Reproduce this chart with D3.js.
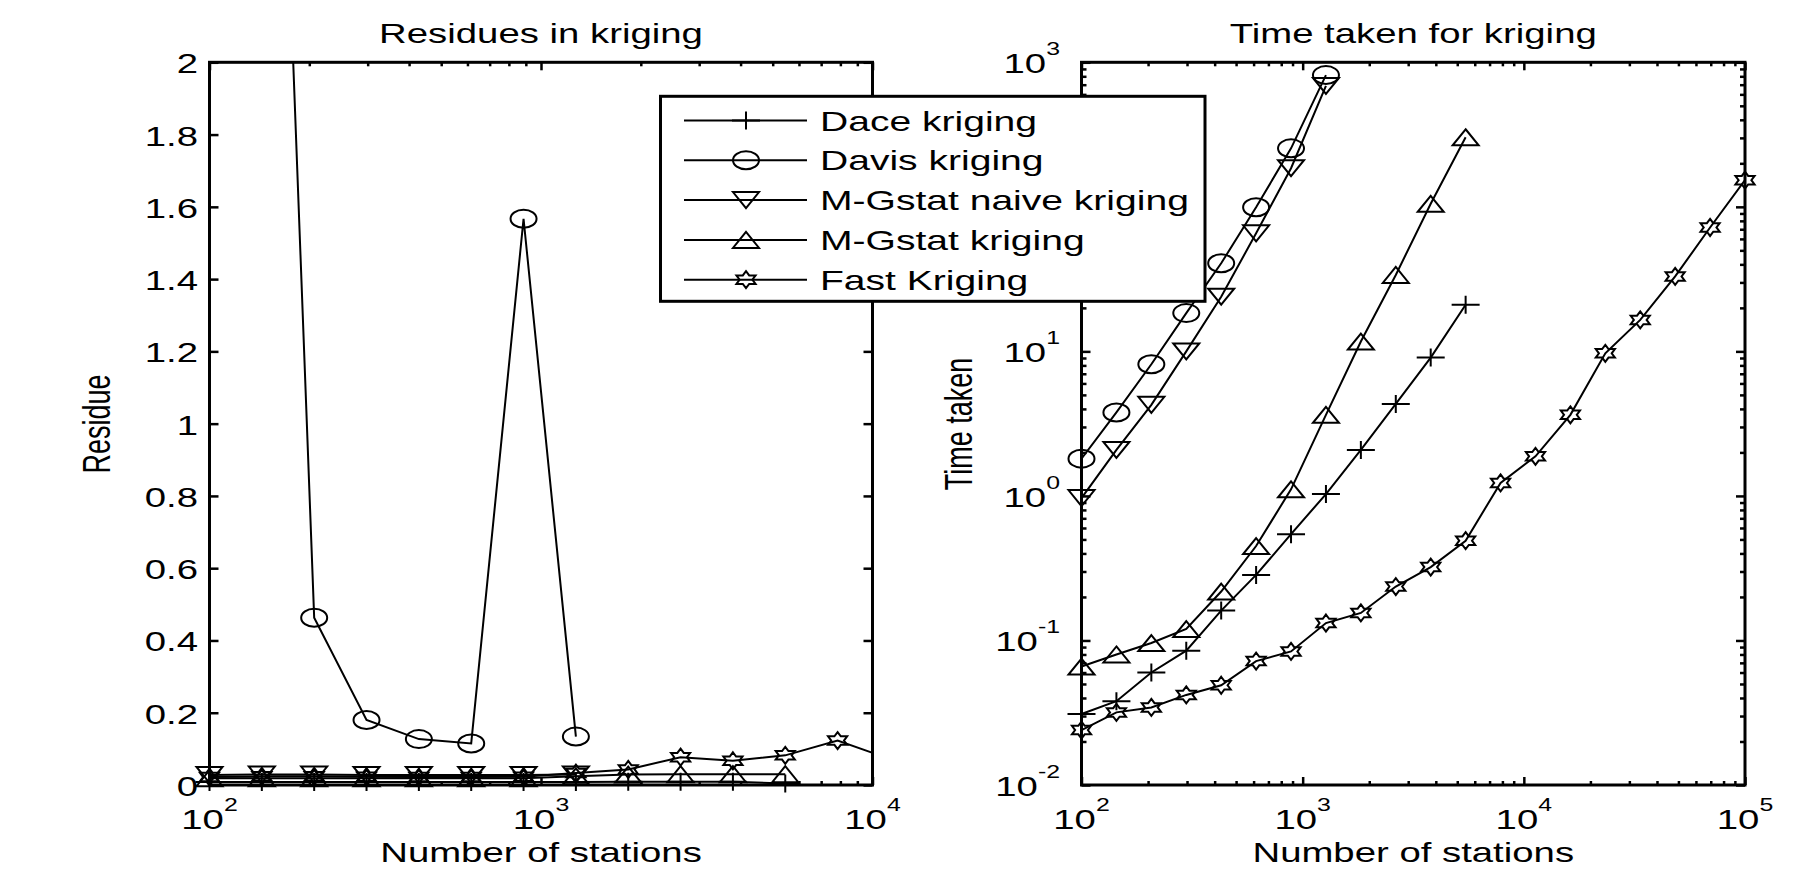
<!DOCTYPE html>
<html>
<head>
<meta charset="utf-8">
<script src="https://cdn.jsdelivr.net/npm/d3@7"></script>
<style>
body { margin: 0; background: #fff; }
text { font-family: "Liberation Sans", Arial, sans-serif; fill: #000; }
</style>
</head>
<body>
<svg id="chart" width="1800" height="879"></svg>
<script>
// number of stations (same grid for both panels)
const stations = [100, 143.84, 206.91, 297.64, 428.13, 615.85, 885.87, 1274.27, 1832.98, 2636.65,
    3792.69, 5455.59, 7847.60, 11288.38, 16237.77, 23357.21, 33598.18, 48329.30, 69519.28, 100000];

// residues (left panel)
const daceResidue = [0.008, 0.008, 0.008, 0.008, 0.008, 0.008, 0.008, 0.008, 0.009, 0.009, 0.009, 0.004];
const davisResidue = [null, 4.3, 0.463, 0.18, 0.127, 0.115, 1.567, 0.134];
const naiveResidue = [0.028, 0.029, 0.029, 0.028, 0.028, 0.028, 0.028, 0.029];
const mgstatResidue = [0.019, 0.019, 0.019, 0.019, 0.019, 0.019, 0.019, 0.024, 0.029, 0.03, 0.03, 0.03];
const fastResidue = [0.022, 0.024, 0.024, 0.023, 0.022, 0.022, 0.023, 0.033, 0.043, 0.077, 0.067, 0.082, 0.123, 0.072];

// time taken (right panel)
const daceTime = [0.031, 0.038, 0.060, 0.085, 0.161, 0.284, 0.544, 1.03, 2.08, 4.33, 9.06, 21];
const davisTime = [1.81, 3.78, 8.15, 18.4, 40.7, 99.3, 254, 816];
const naiveTime = [0.966, 2.08, 4.27, 10, 23.9, 65.6, 185, 686];
const mgstatTime = [0.066, 0.080, 0.096, 0.12, 0.218, 0.45, 1.11, 3.64, 11.7, 33.8, 105, 303];
const fastTime = [0.024, 0.0318, 0.0344, 0.042, 0.049, 0.072, 0.084, 0.132, 0.155, 0.236, 0.322, 0.49,
    1.23, 1.88, 3.64, 9.7, 16.5, 33, 72, 153];

const residueTicks = [0, 0.2, 0.4, 0.6, 0.8, 1, 1.2, 1.4, 1.6, 1.8, 2];
const residueTickLabels = ['0', '0.2', '0.4', '0.6', '0.8', '1', '1.2', '1.4', '1.6', '1.8', '2'];
const residueStationTicks = [1e2, 1e3, 1e4];
const residueStationExp = ['2', '3', '4'];
const timeStationTicks = [1e2, 1e3, 1e4, 1e5];
const timeStationExp = ['2', '3', '4', '5'];
const timeTicks = [1e-2, 1e-1, 1e0, 1e1, 1e2, 1e3];
const timeTickExp = ['-2', '-1', '0', '1', null, '3']; // 10^2 sits under the legend

const seriesNames = ['Dace kriging', 'Davis kriging', 'M-Gstat naive kriging', 'M-Gstat kriging', 'Fast Kriging'];
const seriesMarkers = ['plus', 'circle', 'down', 'up', 'hexagram'];

// layout
const plotTop = 62.3, plotBottom = 785;
const stretch = 1.42; // picture is wider than tall, text follows
const svg = d3.select('#chart');

const xRes = d3.scaleLog().domain([1e2, 1e4]).range([209.5, 872.5]);
const yRes = d3.scaleLinear().domain([0, 2]).range([plotBottom, plotTop]);
const xTime = d3.scaleLog().domain([1e2, 1e5]).range([1081.5, 1745]);
const yTime = d3.scaleLog().domain([1e-2, 1e3]).range([plotBottom, plotTop]);

function wideText(g, x, y, anchor, size) {
    return g.append('text')
        .attr('transform', `translate(${x},${y}) scale(${stretch},1)`)
        .attr('text-anchor', anchor)
        .style('font-size', size + 'px');
}

function powerLabel(g, x, y, anchor, exp) {
    const t = wideText(g, x, y, anchor, 27);
    t.append('tspan').text('10');
    t.append('tspan').attr('dy', -18).style('font-size', '17.5px').text(exp);
}

const hexPts = d3.range(12).map(i => {
    const a = (-90 + i * 30) * Math.PI / 180;
    const r = i % 2 === 0 ? 1 : 1 / Math.sqrt(3);
    return [r * Math.cos(a) * 8.5 * 1.3, r * Math.sin(a) * 8.5];
});

function marker(g, type, cx, cy) {
    const m = g.append('g').attr('transform', `translate(${cx},${cy})`)
        .attr('fill', 'none').attr('stroke', '#000').attr('stroke-width', 2);
    if (type === 'plus') m.append('path').attr('d', 'M-14,0H14M0,-9V9');
    if (type === 'circle') m.append('ellipse').attr('rx', 13).attr('ry', 9);
    if (type === 'down') m.append('path').attr('d', 'M-13,-8L13,-8L0,8Z');
    if (type === 'up') m.append('path').attr('d', 'M0,-8L13,8L-13,8Z');
    if (type === 'hexagram') m.append('path').attr('d', 'M' + hexPts.join('L') + 'Z');
}

function panel(id, xs, ys, series, title) {
    const g = svg.append('g');
    const [x0, x1] = xs.range();
    g.append('clipPath').attr('id', id).append('rect')
        .attr('x', x0).attr('y', plotTop).attr('width', x1 - x0).attr('height', plotBottom - plotTop);

    series.forEach((vals, si) => {
        const pts = vals.map((v, i) => [stations[i], v]);
        const line = d3.line().defined(d => d[1] != null).x(d => xs(d[0])).y(d => ys(d[1]));
        g.append('path').attr('d', line(pts)).attr('clip-path', `url(#${id})`)
            .attr('fill', 'none').attr('stroke', '#000').attr('stroke-width', 2);
        const [xd0, xd1] = xs.domain(), [yd0, yd1] = ys.domain();
        pts.filter(d => d[1] != null && d[0] >= xd0 && d[0] <= xd1 * 1.0001 && d[1] >= yd0 && d[1] <= yd1)
            .forEach(d => marker(g, seriesMarkers[si], xs(d[0]), ys(d[1])));
    });

    g.append('rect').attr('x', x0).attr('y', plotTop).attr('width', x1 - x0).attr('height', plotBottom - plotTop)
        .attr('fill', 'none').attr('stroke', '#000').attr('stroke-width', 3);

    wideText(g, (x0 + x1) / 2, 42.7, 'middle', 27).text(title);
    wideText(g, (x0 + x1) / 2, 861.5, 'middle', 27).text('Number of stations');
    return g;
}

function inwardTicks(g, axis, transform) {
    const a = g.append('g').attr('transform', transform).call(axis);
    a.select('.domain').remove();
    a.selectAll('text').remove();
    a.selectAll('line').attr('stroke-width', 2.5);
}

function xLogTicks(g, xs, majors) {
    const minors = xs.ticks().filter(v => !majors.includes(v));
    [[d3.axisBottom, plotBottom], [d3.axisTop, plotTop]].forEach(([ax, y]) => {
        inwardTicks(g, ax(xs).tickValues(majors).tickSize(-8).tickSizeOuter(0), `translate(0,${y})`);
        inwardTicks(g, ax(xs).tickValues(minors).tickSize(-4).tickSizeOuter(0), `translate(0,${y})`);
    });
}

// left panel: residues
const gRes = panel('clipRes', xRes, yRes,
    [daceResidue, davisResidue, naiveResidue, mgstatResidue, fastResidue], 'Residues in kriging');
xLogTicks(gRes, xRes, residueStationTicks);
[[d3.axisLeft, 209.5], [d3.axisRight, 872.5]].forEach(([ax, x]) => {
    inwardTicks(gRes, ax(yRes).tickValues(residueTicks).tickSize(-9).tickSizeOuter(0), `translate(${x},0)`);
});
residueTicks.forEach((v, i) => wideText(gRes, 198, yRes(v) + 11, 'end', 27).text(residueTickLabels[i]));
residueStationTicks.forEach((v, i) => powerLabel(gRes, xRes(v), 829.3, 'middle', residueStationExp[i]));
wideText(gRes, 0, 0, 'middle', 27)
    .attr('transform', `translate(110,424) scale(${stretch},1) rotate(-90)`).text('Residue');

// right panel: time taken
const gTime = panel('clipTime', xTime, yTime,
    [daceTime, davisTime, naiveTime, mgstatTime, fastTime], 'Time taken for kriging');
xLogTicks(gTime, xTime, timeStationTicks);
const timeMinors = yTime.ticks().filter(v => !timeTicks.some(t => Math.abs(t - v) / t < 1e-6));
[[d3.axisLeft, 1081.5], [d3.axisRight, 1745]].forEach(([ax, x]) => {
    inwardTicks(gTime, ax(yTime).tickValues(timeTicks).tickSize(-9).tickSizeOuter(0), `translate(${x},0)`);
    inwardTicks(gTime, ax(yTime).tickValues(timeMinors).tickSize(-5).tickSizeOuter(0), `translate(${x},0)`);
});
timeTicks.forEach((v, i) => {
    if (timeTickExp[i] != null) powerLabel(gTime, 1060, yTime(v) + 11, 'end', timeTickExp[i]);
});
timeStationTicks.forEach((v, i) => powerLabel(gTime, xTime(v), 829.3, 'middle', timeStationExp[i]));
wideText(gTime, 0, 0, 'middle', 27)
    .attr('transform', `translate(972,424) scale(${stretch},1) rotate(-90)`).text('Time taken');

// legend
const leg = svg.append('g');
leg.append('rect').attr('x', 660.5).attr('y', 96.3).attr('width', 544.5).attr('height', 205)
    .attr('fill', '#fff').attr('stroke', '#000').attr('stroke-width', 3);
seriesNames.forEach((name, i) => {
    const y = 120.5 + i * 39.8;
    leg.append('line').attr('x1', 684).attr('x2', 807).attr('y1', y).attr('y2', y)
        .attr('stroke', '#000').attr('stroke-width', 2);
    marker(leg, seriesMarkers[i], 746, y);
    wideText(leg, 820, y + 10, 'start', 27.5).text(name);
});
</script>
</body>
</html>
